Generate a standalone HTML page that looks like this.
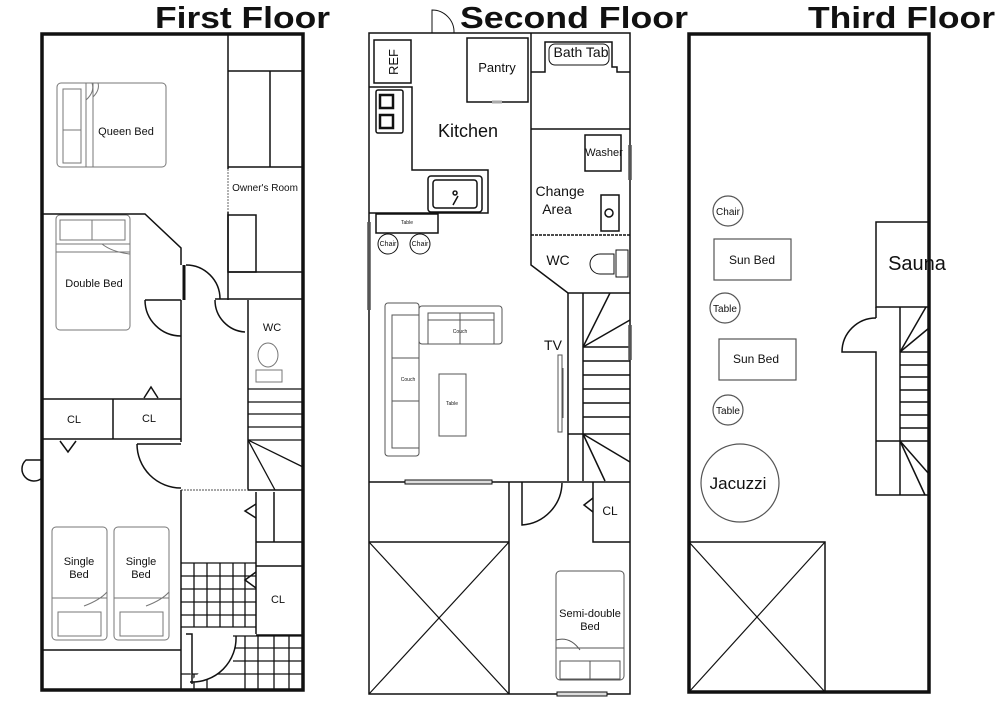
<!DOCTYPE html>
<html><head><meta charset="utf-8"><style>
html,body{margin:0;padding:0;background:#fff;}
svg{display:block;}
text{font-family:"Liberation Sans",Arial,sans-serif;fill:#111;}
.t{font-weight:bold;font-size:31px;}
</style></head><body>
<svg width="1000" height="707" viewBox="0 0 1000 707" xmlns="http://www.w3.org/2000/svg">
<rect width="1000" height="707" fill="#fff"/>
<!-- Titles -->
<text class="t" x="155" y="28" textLength="175" lengthAdjust="spacingAndGlyphs">First Floor</text>
<text class="t" x="460" y="28" textLength="228" lengthAdjust="spacingAndGlyphs">Second Floor</text>
<text class="t" x="808" y="28" textLength="187" lengthAdjust="spacingAndGlyphs">Third Floor</text>

<!-- ============ FIRST FLOOR ============ -->
<g fill="none" stroke="#111" stroke-width="1.5">
<rect x="42" y="34" width="261" height="656" stroke-width="3.5"/>
<!-- owner's room column -->
<line x1="228" y1="34" x2="228" y2="169"/>
<line x1="228" y1="169" x2="228" y2="212" stroke="#999" stroke-dasharray="2,1"/>
<line x1="228" y1="212" x2="228" y2="300"/>
<line x1="228" y1="71" x2="303" y2="71"/>
<line x1="270" y1="71" x2="270" y2="167"/>
<line x1="228" y1="167" x2="303" y2="167"/>
<rect x="228" y="215" width="28" height="57"/>
<line x1="228" y1="272" x2="303" y2="272"/>
<line x1="215" y1="299" x2="303" y2="299"/>
<!-- queen bed -->
<g stroke="#777" stroke-width="1">
<rect x="57" y="83" width="109" height="84" rx="4"/>
<rect x="63" y="89" width="18" height="41"/><rect x="63" y="130" width="18" height="33"/>
<line x1="93" y1="83" x2="93" y2="167"/><line x1="86" y1="83" x2="86" y2="167"/>
<path d="M93 97 Q100 90 98 83 M86 100 Q95 92 92 83"/>
<rect x="56" y="215" width="74" height="115" rx="4"/>
<rect x="60" y="220" width="32" height="20"/><rect x="92" y="220" width="33" height="20"/>
<line x1="56" y1="244" x2="130" y2="244"/><line x1="56" y1="252" x2="130" y2="252"/>
<path d="M102 244 Q112 252 130 254"/>
<rect x="52" y="527" width="55" height="113" rx="4"/>
<rect x="114" y="527" width="55" height="113" rx="4"/>
<line x1="52" y1="598" x2="107" y2="598"/><line x1="114" y1="598" x2="169" y2="598"/>
<rect x="58" y="612" width="43" height="24"/><rect x="120" y="612" width="43" height="24"/>
<path d="M84 606 Q100 600 107 592 M146 606 Q162 600 169 592"/>
<ellipse cx="268" cy="355" rx="10" ry="12"/><rect x="256" y="370" width="26" height="12"/>
</g>
<!-- double bed room walls -->
<polyline points="42,214 145,214 181,248 181,265"/>
<line x1="181" y1="300" x2="181" y2="442"/>
<line x1="184" y1="265" x2="184" y2="300" stroke-width="3"/>
<path d="M186 265 A34 34 0 0 1 220 299"/>
<path d="M145 300 L181 300 M145 300 A36 36 0 0 0 181 336"/>
<path d="M215 300 A32 32 0 0 0 245 332"/>
<line x1="248" y1="300" x2="248" y2="490"/>
<!-- closets -->
<line x1="42" y1="399" x2="181" y2="399"/>
<line x1="42" y1="439" x2="181" y2="439"/>
<line x1="113" y1="399" x2="113" y2="439"/>
<polyline points="144,398 151,387 158,398"/>
<polyline points="60,441 68,452 76,441"/>
<path d="M137 444 L181 444 M137 444 A44 44 0 0 0 181 488"/>
<path d="M42 460 L26 460 A10 10 0 0 0 42 478"/>
<!-- stairs -->
<g stroke-width="1.3">
<line x1="248" y1="389" x2="303" y2="389"/><line x1="248" y1="402" x2="303" y2="402"/>
<line x1="248" y1="414" x2="303" y2="414"/><line x1="248" y1="427" x2="303" y2="427"/>
<line x1="248" y1="440" x2="303" y2="440"/>
<line x1="248" y1="440" x2="275" y2="490"/><line x1="248" y1="440" x2="303" y2="467"/>
</g>
<line x1="181" y1="490" x2="248" y2="490" stroke="#888" stroke-dasharray="2,1"/>
<line x1="248" y1="490" x2="303" y2="490"/>
<line x1="181" y1="490" x2="181" y2="690"/>
<line x1="256" y1="492" x2="256" y2="634"/>
<line x1="274" y1="492" x2="274" y2="542"/>
<line x1="256" y1="542" x2="303" y2="542"/>
<line x1="256" y1="566" x2="303" y2="566"/>
<line x1="256" y1="635" x2="303" y2="635"/>
<polyline points="256,504 245,511 256,518"/>
<polyline points="256,572 245,580 256,588"/>
<line x1="42" y1="650" x2="181" y2="650"/>
<!-- tiles -->
<g stroke-width="1.3">
<line x1="181" y1="563" x2="256" y2="563"/><line x1="181" y1="576" x2="256" y2="576"/>
<line x1="181" y1="589" x2="256" y2="589"/><line x1="181" y1="602" x2="256" y2="602"/>
<line x1="181" y1="615" x2="256" y2="615"/><line x1="181" y1="627" x2="256" y2="627"/>
<line x1="194" y1="563" x2="194" y2="627"/><line x1="207" y1="563" x2="207" y2="627"/>
<line x1="220" y1="563" x2="220" y2="627"/><line x1="233" y1="563" x2="233" y2="627"/>
<line x1="245" y1="563" x2="245" y2="627"/>
<line x1="233" y1="636" x2="303" y2="636"/><line x1="233" y1="648" x2="303" y2="648"/>
<line x1="233" y1="661" x2="303" y2="661"/><line x1="233" y1="674" x2="303" y2="674"/>
<line x1="245" y1="636" x2="245" y2="690"/><line x1="258" y1="636" x2="258" y2="690"/>
<line x1="274" y1="636" x2="274" y2="690"/><line x1="289" y1="636" x2="289" y2="690"/>
<line x1="181" y1="674" x2="233" y2="674"/><line x1="194" y1="674" x2="194" y2="690"/>
<line x1="207" y1="678" x2="207" y2="690"/>
</g>
<path d="M186 634 L192 634 L192 684 M190 682 A44 44 0 0 0 236 636" fill="#fff"/>
</g>
<g font-size="11" text-anchor="middle">
<text x="126" y="135">Queen Bed</text>
<text x="94" y="287">Double Bed</text>
<text x="265" y="191" font-size="10">Owner's Room</text>
<text x="272" y="331">WC</text>
<text x="74" y="423">CL</text>
<text x="149" y="422">CL</text>
<text x="79" y="565">Single</text><text x="79" y="578">Bed</text>
<text x="141" y="565">Single</text><text x="141" y="578">Bed</text>
<text x="278" y="603">CL</text>
</g>

<!-- ============ SECOND FLOOR ============ -->
<g fill="none" stroke="#111" stroke-width="1.5">
<rect x="369" y="33" width="261" height="661"/>
<path d="M432 33 L432 10 A22 22 0 0 1 454 33" stroke-width="1"/>
<rect x="374" y="40" width="37" height="43"/>
<rect x="467" y="38" width="61" height="64"/>
<line x1="492" y1="102" x2="502" y2="102" stroke="#aaa" stroke-width="3"/>
<polyline points="369,87 412,87 412,170 488,170 488,213 369,213"/>
<rect x="376" y="90" width="27" height="43" rx="2"/>
<rect x="380" y="95" width="13" height="13" stroke-width="2.5"/><rect x="380" y="115" width="13" height="13" stroke-width="2.5"/>
<rect x="428" y="176" width="54" height="36" rx="3"/><rect x="433" y="180" width="44" height="28" rx="3"/>
<path d="M453 205 L458 196 M455 191 A2 2 0 1 0 455.1 191"/>
<rect x="376" y="214" width="62" height="19"/>
<circle cx="388" cy="244" r="10" stroke-width="1"/><circle cx="420" cy="244" r="10" stroke-width="1"/>
<line x1="369" y1="222" x2="369" y2="310" stroke-width="3.5" stroke="#555"/>
<!-- right rooms -->
<polyline points="531,33 531,265 568,293 630,293"/>
<polyline points="531,72 545,72 545,42 612,42 612,67 617,67 617,72 630,72"/>
<rect x="549" y="44" width="60" height="21" rx="6" stroke-width="1"/>
<line x1="531" y1="129" x2="630" y2="129"/>
<rect x="585" y="135" width="36" height="36"/>
<line x1="630" y1="145" x2="630" y2="180" stroke-width="3.5" stroke="#555"/>
<rect x="601" y="195" width="18" height="36"/><circle cx="609" cy="213" r="4"/>
<line x1="531" y1="235" x2="630" y2="235" stroke-dasharray="3,1"/>
<path d="M614 254 L614 274 L600 274 A10 10 0 0 1 600 254 Z" stroke-width="1"/>
<rect x="616" y="250" width="12" height="27" stroke-width="1"/>
<!-- living -->
<g stroke="#555" stroke-width="1">
<rect x="385" y="303" width="34" height="153" rx="3"/>
<rect x="392" y="315" width="27" height="133"/>
<line x1="392" y1="358" x2="419" y2="358"/><line x1="392" y1="401" x2="419" y2="401"/>
<rect x="419" y="306" width="83" height="38" rx="3"/>
<rect x="428" y="313" width="66" height="31"/>
<line x1="428" y1="320" x2="494" y2="320"/><line x1="460" y1="313" x2="460" y2="344"/>
<rect x="439" y="374" width="27" height="62"/>
<rect x="558" y="355" width="4" height="77"/><line x1="563" y1="368" x2="563" y2="418"/>
</g>
<!-- stairs -->
<line x1="568" y1="293" x2="568" y2="481"/>
<line x1="583" y1="293" x2="583" y2="481"/>
<line x1="583" y1="347" x2="630" y2="347"/>
<line x1="583" y1="347" x2="610" y2="293"/><line x1="583" y1="347" x2="630" y2="320"/>
<line x1="583" y1="361" x2="630" y2="361"/><line x1="583" y1="375" x2="630" y2="375"/>
<line x1="583" y1="389" x2="630" y2="389"/><line x1="583" y1="403" x2="630" y2="403"/>
<line x1="583" y1="417" x2="630" y2="417"/><line x1="583" y1="434" x2="630" y2="434"/>
<line x1="568" y1="434" x2="583" y2="434"/>
<line x1="583" y1="434" x2="630" y2="462"/><line x1="583" y1="434" x2="605" y2="481"/>
<line x1="630" y1="325" x2="630" y2="360" stroke-width="3.5" stroke="#555"/>
<line x1="369" y1="482" x2="630" y2="482"/>
<rect x="405" y="480" width="87" height="4" stroke-width="1" fill="#ddd"/>
<line x1="509" y1="482" x2="509" y2="694"/>
<line x1="369" y1="542" x2="509" y2="542"/>
<line x1="369" y1="542" x2="509" y2="694" stroke-width="1.2"/><line x1="509" y1="542" x2="369" y2="694" stroke-width="1.2"/>
<path d="M522 482 L522 525 A43 43 0 0 0 562 483"/>
<polyline points="593,482 593,542 630,542"/>
<polyline points="593,498 584,505 593,512"/>
<g stroke="#555" stroke-width="1">
<rect x="556" y="571" width="68" height="109" rx="4"/>
<line x1="556" y1="648" x2="624" y2="648"/>
<rect x="560" y="661" width="30" height="18"/><rect x="590" y="661" width="30" height="18"/>
<path d="M556 640 Q570 636 580 650"/>
</g>
<rect x="557" y="692" width="50" height="4" stroke-width="1" fill="#ddd"/>
</g>
<g text-anchor="middle">
<text x="497" y="72" font-size="13">Pantry</text>
<text x="581" y="57" font-size="14">Bath Tab</text>
<text x="468" y="137" font-size="18">Kitchen</text>
<text x="604" y="156" font-size="11">Washer</text>
<text x="560" y="196" font-size="14">Change</text>
<text x="557" y="214" font-size="14">Area</text>
<text x="558" y="265" font-size="14">WC</text>
<text x="553" y="350" font-size="14">TV</text>
<text x="610" y="515" font-size="12">CL</text>
<text x="590" y="617" font-size="11">Semi-double</text>
<text x="590" y="630" font-size="11">Bed</text>
<text x="407" y="224" font-size="5">Table</text>
<text x="388" y="246" font-size="7">Chair</text>
<text x="420" y="246" font-size="7">Chair</text>
<text x="460" y="333" font-size="5">Couch</text>
<text x="408" y="381" font-size="5">Couch</text>
<text x="452" y="405" font-size="5">Table</text>
<text x="0" y="0" font-size="13" transform="translate(398,62) rotate(-90)">REF</text>
</g>

<!-- ============ THIRD FLOOR ============ -->
<g fill="none" stroke="#111" stroke-width="1.5">
<rect x="689" y="34" width="240" height="658" stroke-width="3.5"/>
<g stroke="#555" stroke-width="1.2">
<circle cx="728" cy="211" r="15"/>
<rect x="714" y="239" width="77" height="41"/>
<circle cx="725" cy="308" r="15"/>
<rect x="719" y="339" width="77" height="41"/>
<circle cx="728" cy="410" r="15"/>
<circle cx="740" cy="483" r="39"/>
</g>
<polyline points="929,222 876,222 876,307 929,307"/>
<line x1="900" y1="307" x2="900" y2="495"/>
<polyline points="876,307 876,318"/>
<path d="M876 318 A34 34 0 0 0 842 352 L876 352 L876 495 L929 495"/>
<line x1="900" y1="352" x2="929" y2="352"/>
<line x1="900" y1="352" x2="926" y2="307"/><line x1="900" y1="352" x2="929" y2="328"/>
<line x1="900" y1="365" x2="929" y2="365"/><line x1="900" y1="377" x2="929" y2="377"/>
<line x1="900" y1="390" x2="929" y2="390"/><line x1="900" y1="402" x2="929" y2="402"/>
<line x1="900" y1="415" x2="929" y2="415"/><line x1="900" y1="428" x2="929" y2="428"/>
<line x1="876" y1="441" x2="929" y2="441"/>
<line x1="900" y1="441" x2="929" y2="474"/><line x1="900" y1="441" x2="925" y2="495"/>
<rect x="689" y="542" width="136" height="150"/>
<line x1="689" y1="542" x2="825" y2="692" stroke-width="1.2"/><line x1="825" y1="542" x2="689" y2="692" stroke-width="1.2"/>
</g>
<g text-anchor="middle">
<text x="728" y="215" font-size="10">Chair</text>
<text x="752" y="264" font-size="12">Sun Bed</text>
<text x="725" y="312" font-size="10">Table</text>
<text x="756" y="363" font-size="12">Sun Bed</text>
<text x="728" y="414" font-size="10">Table</text>
<text x="738" y="489" font-size="17">Jacuzzi</text>
<text x="917" y="270" font-size="20">Sauna</text>
</g>
</svg>
</body></html>
